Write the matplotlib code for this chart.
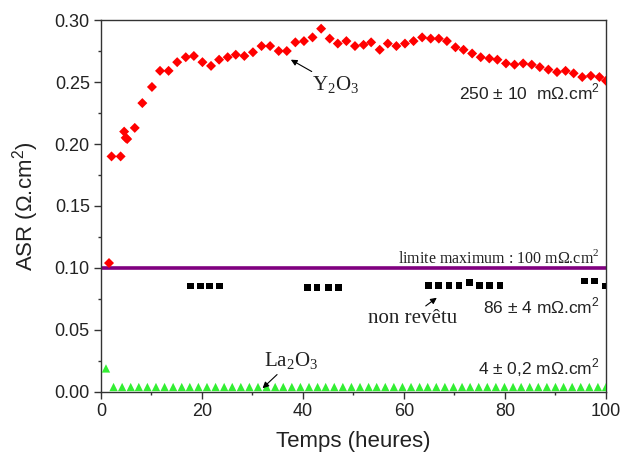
import matplotlib
matplotlib.use('Agg')
import matplotlib.pyplot as plt
from matplotlib.ticker import MultipleLocator

# Y2O3 coated sample
y2o3_t = [1.6, 2.1, 3.9, 4.6, 4.9, 5.2, 6.7, 8.2, 10.1, 11.7, 13.4, 15.1, 16.8, 18.4,
          20.1, 21.8, 23.4, 25.1, 26.7, 28.4, 30.1, 31.8, 33.5, 35.2, 36.8, 38.5,
          40.2, 41.9, 43.6, 45.3, 46.9, 48.6, 50.3, 52.0, 53.5, 55.2, 56.8, 58.5,
          60.2, 61.9, 63.6, 65.3, 66.9, 68.5, 70.2, 71.8, 73.5, 75.2, 76.9, 78.5,
          80.2, 81.9, 83.6, 85.3, 86.9, 88.6, 90.3, 92.0, 93.6, 95.3, 97.0, 98.7, 100.0]
y2o3_asr = [0.104, 0.190, 0.190, 0.210, 0.205, 0.204, 0.213, 0.233, 0.246, 0.259, 0.259,
            0.266, 0.270, 0.271, 0.266, 0.263, 0.268, 0.270, 0.272, 0.271, 0.274, 0.279,
            0.279, 0.275, 0.275, 0.282, 0.283, 0.286, 0.293, 0.285, 0.281, 0.283, 0.279,
            0.280, 0.282, 0.276, 0.281, 0.279, 0.281, 0.283, 0.286, 0.285, 0.285, 0.283,
            0.278, 0.276, 0.273, 0.270, 0.269, 0.268, 0.265, 0.264, 0.265, 0.264, 0.262,
            0.260, 0.258, 0.259, 0.257, 0.254, 0.255, 0.254, 0.251]

# uncoated sample
bare_t = [17.8, 19.7, 21.5, 23.4, 40.9, 42.8, 45.0, 47.0,
          64.8, 66.8, 68.9, 70.9, 72.9, 75.0, 77.0, 79.0, 95.8, 97.8, 99.9]
bare_asr = [0.0855, 0.0855, 0.0855, 0.0855, 0.0845, 0.0845, 0.0845, 0.0845,
            0.086, 0.086, 0.086, 0.086, 0.0885, 0.086, 0.086, 0.086, 0.0895, 0.0895, 0.0855]

# La2O3 coated sample
la2o3_t = [1.0, 2.5, 4.2, 5.9, 7.5, 9.2, 10.9, 12.6, 14.3, 16.0, 17.6, 19.3, 21.0, 22.7,
           24.4, 26.0, 27.7, 29.4, 31.1, 32.8, 34.5, 36.1, 37.8, 39.5, 41.2, 42.9, 44.5,
           46.2, 47.9, 49.6, 51.3, 53.0, 54.6, 56.3, 58.0, 59.7, 61.4, 63.1, 64.7, 66.4,
           68.1, 69.8, 71.5, 73.1, 74.8, 76.5, 78.2, 79.9, 81.6, 83.2, 84.9, 86.6, 88.3,
           90.0, 91.6, 93.3, 95.0, 96.7, 98.4, 100.0]
la2o3_asr = [0.019] + [0.004] * 59

limit_asr = 0.10

sans = 'Liberation Sans'
serif = 'Liberation Serif'
txt = '#222222'
sq = r'$^\mathregular{2}$'

fig = plt.figure(figsize=(6.23, 4.59), dpi=100)
ax = fig.add_axes([0.162, 0.146, 0.8107, 0.8104])

ax.axhline(limit_asr, color='#800080', lw=2.6, zorder=2)
ax.scatter(y2o3_t, y2o3_asr, marker='D', s=26, color='#ff0000', edgecolors='none', zorder=3)
ax.scatter(bare_t, bare_asr, marker='s', s=24, color='black', edgecolors='none', zorder=3)
ax.scatter(la2o3_t, la2o3_asr, marker='^', s=36, color='#33ee33', edgecolors='none', zorder=3)

ax.set_xlim(0, 100)
ax.set_ylim(0, 0.30)
ax.xaxis.set_major_locator(MultipleLocator(20))
ax.xaxis.set_minor_locator(MultipleLocator(10))
ax.yaxis.set_major_locator(MultipleLocator(0.05))
ax.yaxis.set_minor_locator(MultipleLocator(0.025))
ax.yaxis.set_major_formatter(matplotlib.ticker.FormatStrFormatter('%.2f'))
ax.tick_params(which='major', direction='out', length=5, width=1, color='#333333',
               labelsize=13, labelcolor=txt, pad=3)
ax.tick_params(which='minor', direction='out', length=2.5, width=1, color='#333333')
for lab in ax.get_xticklabels() + ax.get_yticklabels():
    lab.set_fontfamily(sans)
for sp in ax.spines.values():
    sp.set_color('#333333')
    sp.set_linewidth(1)

ax.set_xlabel('Temps (heures)', fontfamily=sans, fontsize=16, color=txt, labelpad=8)
ax.set_ylabel('ASR (Ω.cm' + sq + ')', fontfamily=sans, fontsize=16, color=txt, labelpad=10)

arrow = dict(arrowstyle='-|>', color='black', lw=0.8, mutation_scale=9, shrinkA=0, shrinkB=0)

ax.annotate(r'Y$_\mathregular{2}$O$_\mathregular{3}$', xy=(37.6, 0.268), xytext=(41.8, 0.2475),
            fontfamily=serif, fontsize=15, color=txt, ha='left', va='center', arrowprops=arrow)
ax.annotate('non revêtu', xy=(66.5, 0.076), xytext=(61.8, 0.0595),
            fontfamily=serif, fontsize=15, color=txt, ha='center', va='center',
            arrowprops=dict(arrow, relpos=(0.6, 1.0)))
ax.annotate(r'La$_\mathregular{2}$O$_\mathregular{3}$', xy=(32.0, 0.003), xytext=(37.6, 0.025),
            fontfamily=serif, fontsize=15, color=txt, ha='center', va='center',
            arrowprops=dict(arrow, relpos=(0.3, 0.0)))

ax.text(98.8, 0.2415, '250 ± 10  mΩ.cm' + sq, fontfamily=sans, fontsize=12.5, color=txt,
        ha='right', va='center')
ax.text(98.8, 0.108, 'limite maximum : 100 mΩ.cm' + sq, fontfamily=serif, fontsize=11.5,
        color=txt, ha='right', va='center')
ax.text(98.8, 0.069, '86 ± 4 mΩ.cm' + sq, fontfamily=sans, fontsize=12.5, color=txt,
        ha='right', va='center')
ax.text(98.8, 0.0195, '4 ± 0,2 mΩ.cm' + sq, fontfamily=sans, fontsize=12.5, color=txt,
        ha='right', va='center')

fig.savefig('out.png', dpi=100)
